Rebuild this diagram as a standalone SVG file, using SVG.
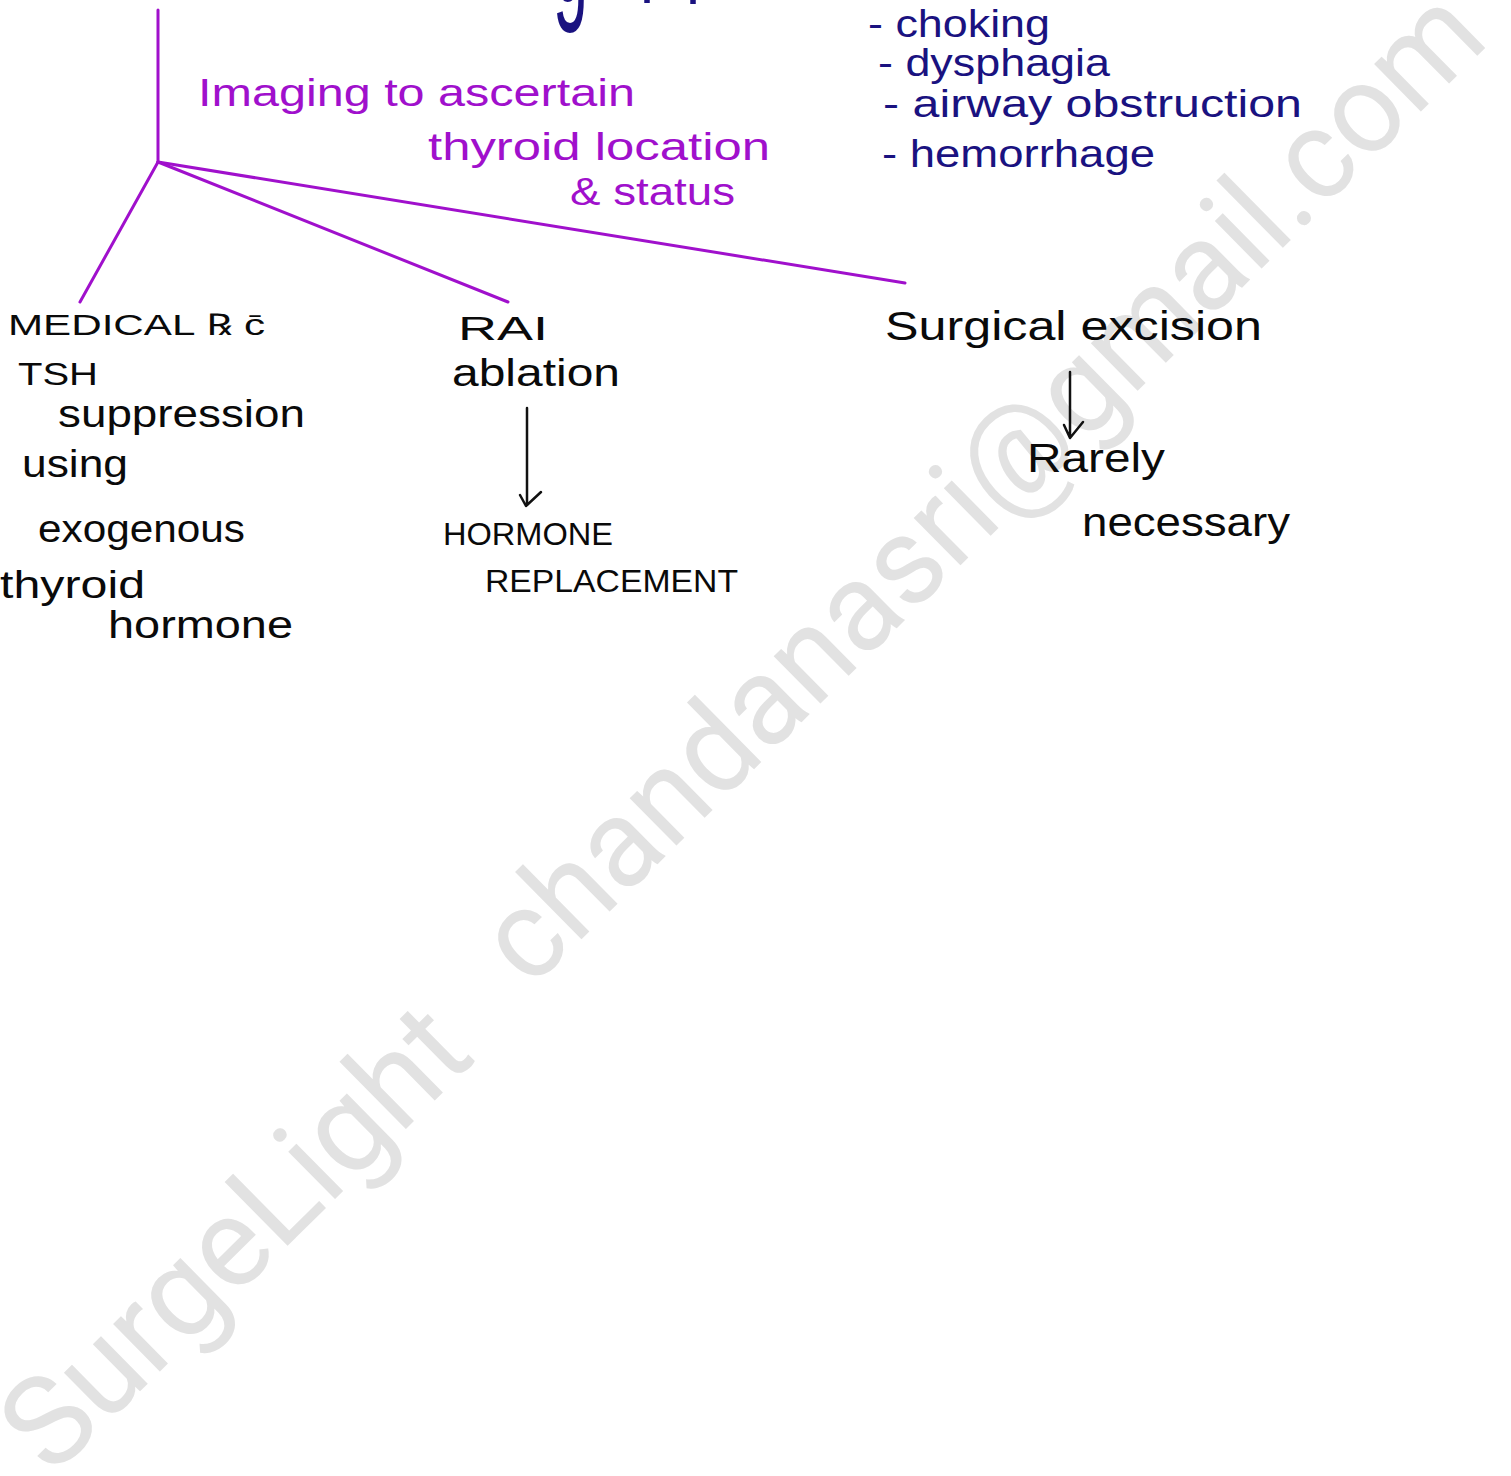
<svg xmlns="http://www.w3.org/2000/svg" width="1511" height="1476" viewBox="0 0 1511 1476">
  <style>
    .hand { font-family: "Liberation Sans", Arial, sans-serif; }
    .purple { fill: #a010cc; }
    .navy { fill: #1a1280; }
    .ink { fill: #0a0a0a; }
    .branch { stroke: #a010cc; stroke-width: 3; fill: none; stroke-linecap: round; }
    .arrow { stroke: #111; stroke-width: 2.5; fill: none; stroke-linecap: round; stroke-linejoin: round; }
    .mark { font-family: Roboto, "Liberation Sans", sans-serif; fill: #e2e2e2; font-size: 126px; }
  </style>
  <rect width="1511" height="1476" fill="#ffffff"/>

  <!-- diagonal watermark, two words laid on one slanted baseline -->
  <g id="watermark">
    <text class="mark" transform="translate(52,1478) rotate(-44.6)" textLength="598" lengthAdjust="spacingAndGlyphs">SurgeLight</text>
    <text class="mark" transform="translate(530,990) rotate(-44.6)" textLength="1350" lengthAdjust="spacingAndGlyphs">chandanasri@gmail.com</text>
  </g>

  <!-- cut-off heading above the page edge -->
  <text class="hand navy" font-size="150" transform="translate(553,2) scale(0.42,1)">g</text>
  <text class="hand navy" font-size="150" transform="translate(640,-28) scale(0.42,1)">p</text>
  <text class="hand navy" font-size="150" transform="translate(686,-27) scale(0.42,1)">p</text>

  <!-- branching connectors -->
  <g id="connectors">
    <path class="branch" d="M158,10 L158,162"/>
    <path class="branch" d="M158,162 L80,302"/>
    <path class="branch" d="M158,162 L508,302"/>
    <path class="branch" d="M158,162 L905,283"/>
    <path class="arrow" d="M527,408 L527,505 M520,495 L526,506 L541,492"/>
    <path class="arrow" d="M1070,372 L1070,437 M1064,425 L1070,438 L1083,422"/>
  </g>

  <g id="imaging-note">
    <text class="hand purple" font-size="38" x="198" y="106" textLength="437" lengthAdjust="spacingAndGlyphs">Imaging to ascertain</text>
    <text class="hand purple" font-size="38" x="428" y="160" textLength="342" lengthAdjust="spacingAndGlyphs">thyroid location</text>
    <text class="hand purple" font-size="38" x="570" y="205" textLength="165" lengthAdjust="spacingAndGlyphs">&amp; status</text>
  </g>

  <g id="complications">
    <text class="hand navy" font-size="38" x="868" y="37" textLength="182" lengthAdjust="spacingAndGlyphs">- choking</text>
    <text class="hand navy" font-size="38" x="878" y="76" textLength="232" lengthAdjust="spacingAndGlyphs">- dysphagia</text>
    <text class="hand navy" font-size="38" x="883" y="117" textLength="419" lengthAdjust="spacingAndGlyphs">- airway obstruction</text>
    <text class="hand navy" font-size="38" x="882" y="167" textLength="273" lengthAdjust="spacingAndGlyphs">- hemorrhage</text>
  </g>

  <g id="medical">
    <text class="hand ink" font-size="30" x="8" y="335" textLength="257" lengthAdjust="spacingAndGlyphs">MEDICAL ℞ c̄</text>
    <text class="hand ink" font-size="32" x="18" y="385" textLength="80" lengthAdjust="spacingAndGlyphs">TSH</text>
    <text class="hand ink" font-size="38" x="58" y="427" textLength="247" lengthAdjust="spacingAndGlyphs">suppression</text>
    <text class="hand ink" font-size="38" x="22" y="477" textLength="106" lengthAdjust="spacingAndGlyphs">using</text>
    <text class="hand ink" font-size="38" x="38" y="542" textLength="207" lengthAdjust="spacingAndGlyphs">exogenous</text>
    <text class="hand ink" font-size="38" x="0" y="598" textLength="145" lengthAdjust="spacingAndGlyphs">thyroid</text>
    <text class="hand ink" font-size="38" x="108" y="638" textLength="185" lengthAdjust="spacingAndGlyphs">hormone</text>
  </g>

  <g id="rai">
    <text class="hand ink" font-size="34" x="458" y="340" textLength="90" lengthAdjust="spacingAndGlyphs">RAI</text>
    <text class="hand ink" font-size="38" x="452" y="386" textLength="168" lengthAdjust="spacingAndGlyphs">ablation</text>
  </g>

  <g id="hormone-replacement">
    <text class="hand ink" font-size="32" x="443" y="545" textLength="170" lengthAdjust="spacingAndGlyphs">HORMONE</text>
    <text class="hand ink" font-size="32" x="485" y="592" textLength="253" lengthAdjust="spacingAndGlyphs">REPLACEMENT</text>
  </g>

  <g id="surgical">
    <text class="hand ink" font-size="40" x="885" y="340" textLength="377" lengthAdjust="spacingAndGlyphs">Surgical  excision</text>
  </g>

  <g id="rarely">
    <text class="hand ink" font-size="40" x="1027" y="472" textLength="138" lengthAdjust="spacingAndGlyphs">Rarely</text>
    <text class="hand ink" font-size="40" x="1082" y="536" textLength="208" lengthAdjust="spacingAndGlyphs">necessary</text>
  </g>
</svg>
